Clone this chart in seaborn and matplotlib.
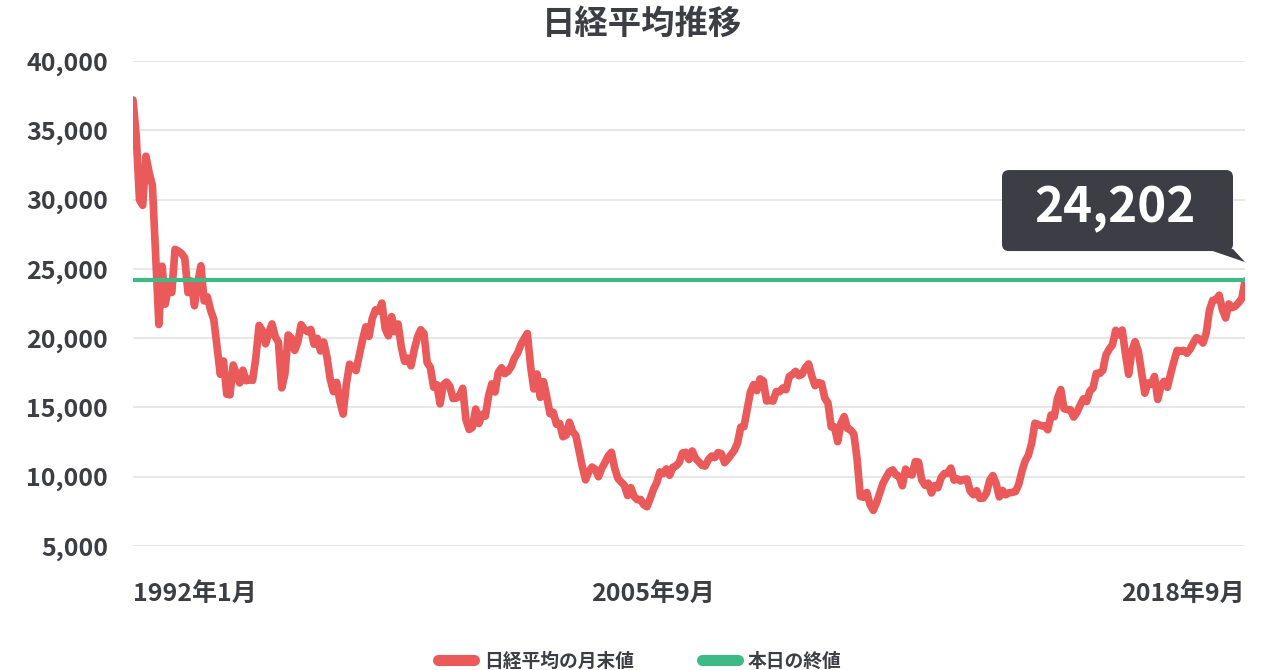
import numpy as np
import pandas as pd
import matplotlib
matplotlib.use("Agg")
import matplotlib.pyplot as plt
from matplotlib.patches import FancyBboxPatch, Polygon
from matplotlib.lines import Line2D
import seaborn as sns

# ---------------- data (monthly closing values, Jan 1990 - Sep 2018) ----------------
nikkei_1990s = [
    37189, 34591, 29980, 29585, 33131, 31940, 31036, 25978, 20984, 25194, 22455, 23849,
    23293, 26409, 26292, 26111, 25790, 23291, 24121, 22336, 23916, 25222, 22687, 22984,
    22023, 21339, 19346, 17391, 18348, 15952, 15910, 18061, 17399, 16767, 17684, 16925,
    17024, 16953, 18591, 20919, 20552, 19590, 20380, 21027, 20106, 19703, 16408, 17417,
    20229, 19997, 19112, 19725, 20974, 20644, 20462, 20629, 19564, 19990, 19076, 19723,
    18650, 17053, 16140, 16807, 15437, 14517, 16678, 18117, 17913, 17655, 18744, 19868,
    20813, 20125, 21407, 22041, 21956, 22531, 20693, 20167, 21556, 20467, 21020, 19361,
    18330, 18557, 18003, 19151, 20069, 20605, 20331, 18229, 17888, 16459, 16636, 15259,
    16628, 16831, 16527, 15641, 15670, 15831, 16379, 14108, 13406, 13565, 14884, 13842,
    14499, 14368, 15837, 16702, 16112, 17530, 17862, 17437, 17605, 17943, 18558, 18934,
]
nikkei_2000s = [
    19540, 19960, 20337, 17974, 16332, 17411, 15727, 16861, 15747, 14540, 14649, 13786,
    13844, 12884, 12999, 13934, 13262, 12969, 11861, 10714, 9775, 10367, 10697, 10543,
    9998, 10588, 11025, 11493, 11764, 10622, 9878, 9620, 9383, 8640, 9216, 8579,
    8340, 8363, 7973, 7831, 8425, 9083, 9563, 10344, 10219, 10560, 10101, 10677,
    10783, 11042, 11715, 11762, 11236, 11858, 11326, 11082, 10824, 10771, 11231, 11489,
    11388, 11740, 11669, 11009, 11277, 11584, 11900, 12414, 13574, 13607, 14872, 16111,
    16650, 16205, 17060, 16906, 15467, 15505, 15457, 16141, 16128, 16399, 16274, 17226,
    17383, 17604, 17288, 17400, 17876, 18138, 17249, 16569, 16786, 16737, 15681, 15308,
    13592, 13603, 12526, 13850, 14339, 13481, 13377, 13073, 11260, 8577, 8512, 8860,
    7994, 7568, 8110, 8828, 9523, 9958, 10357, 10493, 10133, 10035, 9346, 10546,
]
nikkei_2010s = [
    10198, 10126, 11090, 11057, 9769, 9383, 9537, 8824, 9369, 9202, 9937, 10229,
    10238, 10624, 9755, 9850, 9694, 9816, 9833, 8955, 8700, 8988, 8435, 8455,
    8803, 9723, 10084, 9521, 8543, 9007, 8695, 8840, 8870, 8928, 9446, 10395,
    11139, 11559, 12398, 13861, 13775, 13677, 13668, 13389, 14456, 14328, 15662, 16291,
    14915, 14841, 14828, 14304, 14632, 15162, 15621, 15425, 16174, 16414, 17460, 17451,
    17674, 18798, 19207, 19520, 20563, 20236, 20585, 18890, 17388, 19083, 19747, 19034,
    17518, 16027, 16759, 16666, 17235, 15576, 16569, 16887, 16450, 17425, 18308, 19114,
    19041, 19119, 18909, 19197, 19651, 20033, 19925, 19646, 20356, 22012, 22725, 22765,
    23098, 22068, 21454, 22468, 22202, 22305, 22554, 22865, 24120,
]
today_close = 24202
x_labels = ["1992年1月", "2005年9月", "2018年9月"]
series_name = "日経平均の月末値"
today_name = "本日の終値"
title = "日経平均推移"

values = nikkei_1990s + nikkei_2000s + nikkei_2010s
df = pd.DataFrame({"idx": np.arange(len(values)), "value": values})
n = len(values)

# ---------------- style ----------------
sns.set_theme(style="white")
plt.rcParams["font.family"] = ["Noto Sans CJK JP", "DejaVu Sans"]
TEXT = "#3d3d45"
RED = "#ea5a5a"
GREEN = "#3dba85"
TIP = "#3c3d45"

W, H = 1280, 670
fig = plt.figure(figsize=(W / 100, H / 100), dpi=100)
fig.patch.set_facecolor("white")
ax = fig.add_axes([133 / W, 1 - 546 / H, (1245 - 133) / W, (546 - 61) / H])

sns.lineplot(data=df, x="idx", y="value", ax=ax, color=RED, linewidth=5.5,
             solid_joinstyle="round", solid_capstyle="round", zorder=3, legend=False)
ax.axhline(today_close, color=GREEN, linewidth=3.0, zorder=4)

ax.set_xlim(0, n - 1)
ax.set_ylim(5000, 40000)
ax.set_yticks(np.arange(5000, 40001, 5000))
ax.set_yticklabels([f"{v:,}" for v in range(5000, 40001, 5000)])
ax.yaxis.grid(True, color="#e3e3e3", linewidth=1.2, zorder=0)
ax.xaxis.grid(False)
ax.set_xlabel("")
ax.set_ylabel("")
sns.despine(ax=ax, left=True, bottom=True)

mid_idx = 161
ax.set_xticks([0, mid_idx, n - 1])
ax.set_xticklabels(x_labels)
xt = ax.get_xticklabels()
xt[0].set_horizontalalignment("left")
xt[2].set_horizontalalignment("right")
ax.tick_params(axis="x", length=0, pad=26, labelsize=18, labelcolor=TEXT)
ax.tick_params(axis="y", length=0, pad=18, labelsize=18, labelcolor=TEXT)
for lab in ax.get_xticklabels() + ax.get_yticklabels():
    lab.set_fontweight("bold")

fig.text(642 / W, 1 - 24 / H, title, ha="center", va="center", fontsize=24,
         fontweight="bold", color=TEXT)

# ---------------- tooltip ----------------
px, py = ax.transData.transform((n - 1, values[-1]))
tip_x, tip_y = px / 100.0, (py + 19) / 100.0
box_l, box_r = tip_x - 2.43, tip_x - 0.12
box_b, box_t = tip_y + 0.11, tip_y + 0.92
box = FancyBboxPatch((box_l, box_b), box_r - box_l, box_t - box_b,
                     boxstyle="round,pad=0,rounding_size=0.07",
                     transform=fig.dpi_scale_trans, facecolor=TIP, edgecolor="none",
                     zorder=10)
fig.patches.append(box)
tri = Polygon([(box_r - 0.26, box_b + 0.02), (box_r, box_b + 0.02), (tip_x, tip_y)],
              closed=True, transform=fig.dpi_scale_trans, facecolor=TIP,
              edgecolor="none", zorder=10)
fig.patches.append(tri)
fig.text(((box_l + box_r) / 2 * 100 - 3) / W, ((box_b + box_t) / 2 * 100 + 2) / H,
         f"{today_close:,}", ha="center", va="center", fontsize=35.5,
         fontweight="bold", color="white", zorder=11)

# ---------------- legend ----------------
handles = [
    Line2D([0], [0], color=RED, linewidth=8, solid_capstyle="round"),
    Line2D([0], [0], color=GREEN, linewidth=8, solid_capstyle="round"),
]
leg = fig.legend(handles, [series_name, today_name], loc="center",
                 bbox_to_anchor=(640 / W, 1 - 661 / H), ncol=2, frameon=False,
                 handlelength=1.9, handletextpad=0.55,
                 columnspacing=3.6, prop={"weight": "bold", "size": 13.5})
for t in leg.get_texts():
    t.set_color(TEXT)

fig.savefig("out.png", dpi=100)
